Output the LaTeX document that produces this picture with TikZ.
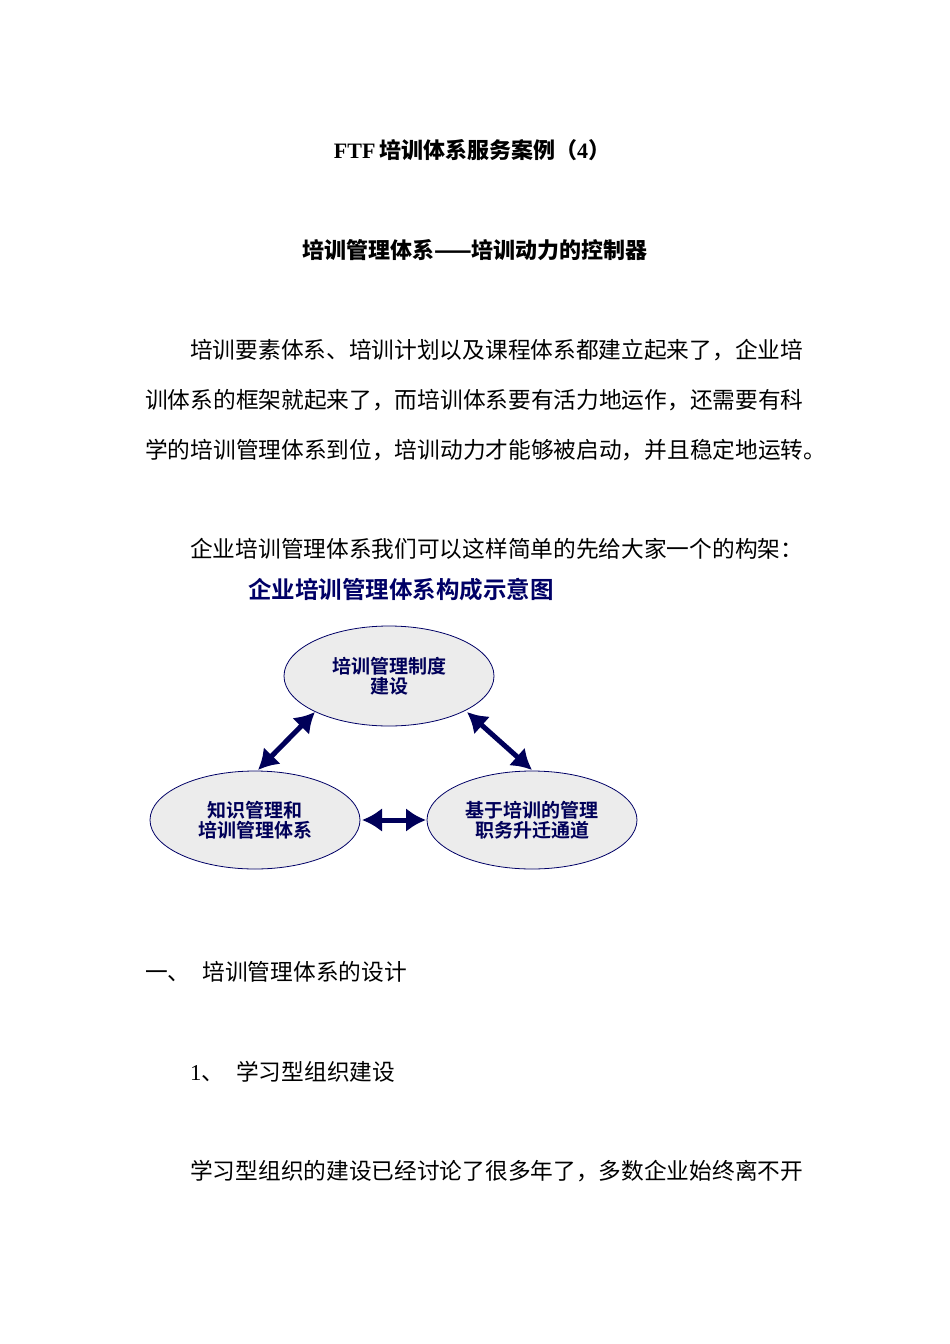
\documentclass[tikz,border=0pt]{standalone}
\usepackage{fontspec}
\setmainfont{Liberation Serif}
\newfontfamily\cjk{Noto Sans CJK SC}
\newfontfamily\cjkb{Noto Sans CJK SC Bold}
\begin{document}
\begin{tikzpicture}[x=1pt,y=-1pt,
  body/.style={anchor=west,inner sep=0pt,font=\cjk\fontsize{22.7pt}{22.7pt}\selectfont},
  head/.style={inner sep=0pt,font=\bfseries\fontsize{22pt}{22pt}\selectfont},
  oval/.style={draw=blue!40!black,fill=gray!15,line width=0.8pt},
  otext/.style={align=center,text=blue!35!black,font=\cjkb\fontsize{19pt}{20pt}\selectfont},
  dbl/.style={<->,>={Latex[length=20pt,width=24pt]},line width=5pt,draw=blue!35!black}]
\usetikzlibrary{arrows.meta}
\useasboundingbox (0,0) rectangle (950,1344);
\node[head] (t1) at (472,150) {FTF\,{\cjkb 培训体系服务案例（}4{\cjkb ）}};
\node[head] (t2) at (475,250) {\cjkb 培训管理体系——培训动力的控制器};
\node[body] (p1) at (190,350) {培训要素体系、培训计划以及课程体系都建立起来了，企业培};
\node[body] (p2) at (145,400) {训体系的框架就起来了，而培训体系要有活力地运作，还需要有科};
\node[body] (p3) at (145,450) {学的培训管理体系到位，培训动力才能够被启动，并且稳定地运转。};
\node[body] (p4) at (190,549) {企业培训管理体系我们可以这样简单的先给大家一个的构架：};
\node[inner sep=0pt,text=blue!40!black,font=\cjkb\fontsize{23.5pt}{23.5pt}\selectfont] (dt) at (401,590) {企业培训管理体系构成示意图};
\draw[oval] (389,676) ellipse[x radius=105,y radius=50];
\draw[oval] (255,820) ellipse[x radius=105,y radius=49];
\draw[oval] (532,820) ellipse[x radius=105,y radius=49];
\node[otext] (a) at (389,676) {培训管理制度\\建设};
\node[otext] (b) at (255,820) {知识管理和\\培训管理体系};
\node[otext] (c) at (532,820) {基于培训的管理\\职务升迁通道};
\coordinate (a1) at (315,712); \coordinate (b1) at (258,770);
\coordinate (a2) at (467,712); \coordinate (c1) at (532,770);
\coordinate (b2) at (362,820); \coordinate (c2) at (426,820);
\draw[dbl] (b1) -- (a1);
\draw[dbl] (a2) -- (c1);
\draw[dbl] (b2) -- (c2);
\node[body] (h1) at (145,972) {一、\hspace{12pt}培训管理体系的设计};
\node[body] (h2) at (190,1072) {{\rmfamily 1}、\hspace{12pt}学习型组织建设};
\node[body] (p5) at (190,1171) {学习型组织的建设已经讨论了很多年了，多数企业始终离不开};
\end{tikzpicture}
\end{document}
